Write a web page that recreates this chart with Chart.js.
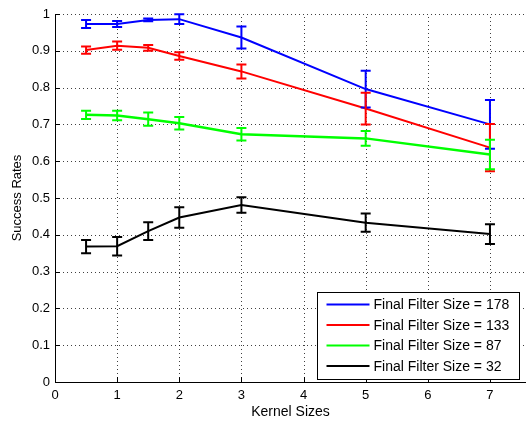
<!DOCTYPE html>
<html>
<head>
<meta charset="utf-8">
<script src="https://cdn.jsdelivr.net/npm/chart.js@4/dist/chart.umd.min.js"></script>
<style>
  html, body { margin: 0; padding: 0; background: #fff; }
  #wrap { width: 526px; height: 421px; position: relative; }
</style>
</head>
<body>
<div id="wrap"><canvas id="c" width="526" height="421"></canvas></div>
<script>
// Kernel sizes tested (x axis)
const kernelSizes = [0.5, 1, 1.5, 2, 3, 5, 7];

// Mean success rate and error half-width per final filter size
const rate178 = [0.973, 0.973, 0.984, 0.986, 0.936, 0.796, 0.700];
const err178  = [0.011, 0.008, 0.004, 0.013, 0.030, 0.050, 0.066];
const rate133 = [0.902, 0.914, 0.908, 0.886, 0.844, 0.743, 0.637];
const err133  = [0.010, 0.011, 0.008, 0.010, 0.019, 0.043, 0.064];
const rate87  = [0.726, 0.724, 0.714, 0.703, 0.673, 0.662, 0.618];
const err87   = [0.011, 0.013, 0.018, 0.017, 0.017, 0.020, 0.040];
const rate32  = [0.368, 0.369, 0.410, 0.447, 0.481, 0.433, 0.402];
const err32   = [0.018, 0.025, 0.024, 0.028, 0.021, 0.025, 0.027];

const seriesLabels = ['Final Filter Size = 178', 'Final Filter Size = 133',
                      'Final Filter Size = 87', 'Final Filter Size = 32'];
const seriesColors = ['#0000ff', '#ff0000', '#00ff00', '#000000'];
const seriesRates = [rate178, rate133, rate87, rate32];
const seriesErrs  = [err178, err133, err87, err32];

const xTickValues = [0, 1, 2, 3, 4, 5, 6, 7];
const yTickValues = [0, 0.1, 0.2, 0.3, 0.4, 0.5, 0.6, 0.7, 0.8, 0.9, 1];

const FONT = 'Liberation Sans, Arial, sans-serif';

const datasets = seriesRates.map((r, i) => ({
  label: seriesLabels[i],
  data: kernelSizes.map((k, j) => ({ x: k, y: r[j] })),
  errors: seriesErrs[i],
  borderColor: seriesColors[i],
  backgroundColor: seriesColors[i],
  borderWidth: i === 2 ? 2.5 : 2,
  pointRadius: 0,
  tension: 0,
  fill: false
}));

// Dotted grid lines at every tick
const dottedGrid = {
  id: 'dottedGrid',
  beforeDatasetsDraw(chart) {
    const ctx = chart.ctx;
    const xs = chart.scales.x, ys = chart.scales.y;
    const a = chart.chartArea;
    ctx.save();
    ctx.strokeStyle = 'rgba(0,0,0,0.75)';
    ctx.lineWidth = 1;
    ctx.setLineDash([1, 3]);
    ctx.beginPath();
    xs.ticks.forEach(t => {
      if (t.value === 0) return;
      const px = Math.round(xs.getPixelForValue(t.value)) + 0.5;
      ctx.moveTo(px, a.bottom); ctx.lineTo(px, a.top);
    });
    ys.ticks.forEach(t => {
      if (t.value === 0) return;
      const py = Math.round(ys.getPixelForValue(t.value)) + 0.5;
      ctx.moveTo(a.left, py); ctx.lineTo(a.right, py);
    });
    ctx.stroke();
    ctx.restore();
  }
};

// Vertical error bars with caps
const errorBars = {
  id: 'errorBars',
  afterDatasetsDraw(chart) {
    const ctx = chart.ctx;
    const xs = chart.scales.x, ys = chart.scales.y;
    const cap = 5;
    ctx.save();
    chart.data.datasets.forEach(ds => {
      ctx.strokeStyle = ds.borderColor;
      ctx.lineWidth = 2;
      ds.data.forEach((p, j) => {
        const e = ds.errors[j];
        const px = xs.getPixelForValue(p.x);
        const top = ys.getPixelForValue(p.y + e);
        const bot = ys.getPixelForValue(p.y - e);
        ctx.beginPath();
        ctx.moveTo(px, top); ctx.lineTo(px, bot);
        ctx.moveTo(px - cap, top); ctx.lineTo(px + cap, top);
        ctx.moveTo(px - cap, bot); ctx.lineTo(px + cap, bot);
        ctx.stroke();
      });
    });
    ctx.restore();
  }
};

// Inward-pointing tick marks on the left and bottom axes
const innerTicks = {
  id: 'innerTicks',
  afterDraw(chart) {
    const ctx = chart.ctx;
    const xs = chart.scales.x, ys = chart.scales.y;
    const a = chart.chartArea;
    const len = 5;
    ctx.save();
    ctx.strokeStyle = '#000';
    ctx.lineWidth = 1;
    ctx.beginPath();
    xs.ticks.forEach(t => {
      const px = Math.round(xs.getPixelForValue(t.value)) + 0.5;
      ctx.moveTo(px, a.bottom); ctx.lineTo(px, a.bottom - len);
    });
    ys.ticks.forEach(t => {
      const py = Math.round(ys.getPixelForValue(t.value)) + 0.5;
      ctx.moveTo(a.left, py); ctx.lineTo(a.left + len, py);
    });
    ctx.stroke();
    ctx.restore();
  }
};

// Boxed legend in the lower right of the plot
const boxLegend = {
  id: 'boxLegend',
  afterDraw(chart) {
    const ctx = chart.ctx;
    const left = 317.5, top = 292.5, w = 202, h = 87;
    ctx.save();
    ctx.fillStyle = '#fff';
    ctx.fillRect(left, top, w, h);
    ctx.strokeStyle = '#000';
    ctx.lineWidth = 1;
    ctx.strokeRect(left, top, w, h);
    ctx.font = '14px ' + FONT;
    ctx.textBaseline = 'middle';
    ctx.textAlign = 'left';
    chart.data.datasets.forEach((ds, i) => {
      const y = top + 12 + i * 20.5;
      ctx.strokeStyle = ds.borderColor;
      ctx.lineWidth = 2;
      ctx.beginPath();
      ctx.moveTo(left + 9, y); ctx.lineTo(left + 52, y);
      ctx.stroke();
      ctx.fillStyle = '#000';
      ctx.fillText(ds.label, left + 56, y + 1);
    });
    ctx.restore();
  }
};

new Chart(document.getElementById('c'), {
  type: 'line',
  data: { datasets },
  plugins: [dottedGrid, errorBars, innerTicks, boxLegend],
  options: {
    responsive: false,
    animation: false,
    devicePixelRatio: 1,
    layout: { padding: { top: 14, right: 0, left: 0, bottom: 0 } },
    plugins: { legend: { display: false }, tooltip: { enabled: false } },
    scales: {
      x: {
        type: 'linear',
        min: 0,
        max: 7.58,
        afterBuildTicks(scale) { scale.ticks = xTickValues.map(v => ({ value: v })); },
        afterFit(scale) { scale.height = 39; },
        ticks: { color: '#000', font: { family: FONT, size: 13 }, padding: 6, maxRotation: 0,
                 callback: v => String(v) },
        grid: { display: false, drawTicks: false, tickLength: 0 },
        border: { display: true, color: '#000', width: 1 },
        title: { display: true, text: 'Kernel Sizes', color: '#000',
                 font: { family: FONT, size: 14 }, padding: { top: 0, bottom: 0 } }
      },
      y: {
        type: 'linear',
        min: 0,
        max: 1,
        afterBuildTicks(scale) { scale.ticks = yTickValues.map(v => ({ value: v })); },
        afterFit(scale) { scale.width = 55; },
        ticks: { color: '#000', font: { family: FONT, size: 13 }, padding: 5,
                 callback: v => String(Math.round(v * 10) / 10) },
        grid: { display: false, drawTicks: false, tickLength: 0 },
        border: { display: true, color: '#000', width: 1 },
        title: { display: true, text: 'Success Rates', color: '#000',
                 font: { family: FONT, size: 13 }, padding: { top: 10, bottom: 0 } }
      }
    }
  }
});
</script>
</body>
</html>
